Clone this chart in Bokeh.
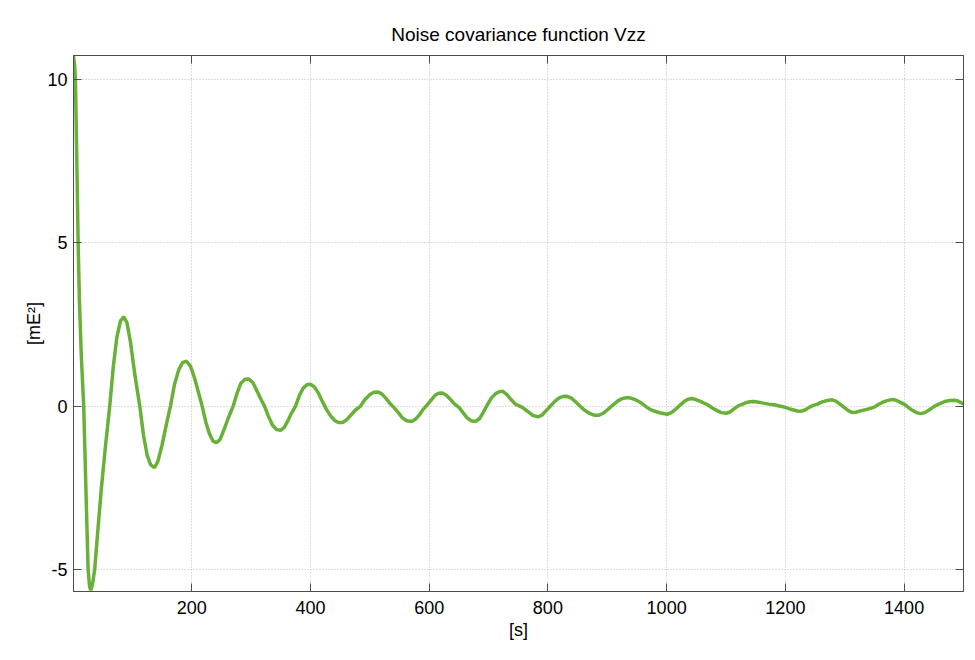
from bokeh.plotting import figure
from bokeh.models import Range1d, LinearAxis, FixedTicker
from bokeh.embed import file_html
from bokeh.resources import INLINE

# ---- data ----
lag_s = [1, 3, 4.2, 6.5, 8.8, 11, 14, 18.2, 22, 25.6, 28, 30, 33, 36.7, 42, 48, 55, 62,
         68, 74, 80, 85.6, 91, 97, 104, 112.6, 119, 125, 131, 137.3, 143, 150, 157,
         164.3, 171, 178, 184.5, 191.3, 198, 205, 211, 217.7, 224, 230, 236, 241.8,
         248, 255, 262, 270, 277, 283, 290, 296.3, 303, 309, 316, 322.7, 329, 336,
         343, 349.7, 356, 362, 368, 375, 382, 388, 394, 400.2, 407, 414, 420, 427,
         434, 441, 447, 454.2, 461, 468, 476, 484.5, 492, 500, 507, 514.3, 521, 528,
         534, 540.6, 548, 555, 562, 570.4, 577, 584, 590, 596.9, 604, 610, 616,
         622.2, 629, 636, 643, 650.2, 657, 664, 671, 678.3, 685, 691, 698, 705, 712,
         718, 724.3, 731, 738, 746, 757, 765, 774, 783.3, 790, 797, 804.7, 812, 819,
         825, 831.6, 839, 846, 854, 860, 866.5, 872, 879, 886, 893, 900, 906, 911.4,
         918, 924, 930, 935.6, 942, 949, 956, 964, 972, 980, 990, 1001, 1008, 1015,
         1022, 1029, 1035, 1042, 1049, 1056, 1063, 1069, 1077, 1085, 1092, 1100,
         1107, 1114, 1120, 1125, 1133, 1140, 1147, 1155, 1163, 1172, 1181, 1190,
         1198, 1206, 1214, 1220, 1226, 1233, 1240, 1247, 1254, 1261, 1268, 1274,
         1279, 1285, 1292, 1299, 1306, 1313, 1320, 1328, 1337, 1349, 1356, 1363,
         1370, 1377, 1383, 1390, 1396, 1400, 1407, 1414, 1421, 1428, 1435, 1442,
         1449, 1456, 1463, 1470, 1477, 1484, 1490, 1496, 1500]
vzz = [10.72, 10.4, 10.0, 7.6, 5.0, 3.2, 1.6, 0.0, -2.6, -5.0, -5.5, -5.63, -5.45, -5.0,
       -3.8, -2.5, -1.2, 0.0, 1.2, 2.1, 2.6, 2.73, 2.55, 1.95, 1.0, 0.0, -0.9, -1.5,
       -1.8, -1.88, -1.7, -1.2, -0.6, 0.0, 0.65, 1.1, 1.33, 1.37, 1.22, 0.85, 0.45,
       0.0, -0.5, -0.85, -1.07, -1.12, -1.02, -0.7, -0.35, 0.0, 0.42, 0.7, 0.82,
       0.83, 0.72, 0.5, 0.23, 0.0, -0.3, -0.58, -0.72, -0.74, -0.65, -0.45, -0.22,
       0.0, 0.35, 0.55, 0.65, 0.67, 0.58, 0.38, 0.15, -0.1, -0.3, -0.44, -0.5, -0.5,
       -0.42, -0.28, -0.12, 0.0, 0.2, 0.35, 0.42, 0.43, 0.36, 0.22, 0.08, -0.04,
       -0.2, -0.36, -0.45, -0.47, -0.4, -0.26, -0.1, 0.04, 0.2, 0.33, 0.39, 0.40,
       0.33, 0.2, 0.06, -0.04, -0.2, -0.36, -0.45, -0.47, -0.38, -0.2, 0.04, 0.25,
       0.38, 0.44, 0.45, 0.35, 0.2, 0.05, -0.04, -0.15, -0.28, -0.33, -0.28, -0.14,
       0.01, 0.15, 0.25, 0.29, 0.30, 0.25, 0.14, 0.0, -0.1, -0.18, -0.24, -0.28,
       -0.28, -0.22, -0.12, -0.02, 0.06, 0.16, 0.22, 0.25, 0.26, 0.23, 0.18, 0.11,
       0.0, -0.1, -0.16, -0.21, -0.25, -0.2, -0.1, 0.02, 0.13, 0.2, 0.23, 0.2, 0.15,
       0.09, 0.04, -0.06, -0.14, -0.2, -0.22, -0.18, -0.08, 0.0, 0.04, 0.1, 0.13,
       0.14, 0.12, 0.09, 0.06, 0.04, 0.0, -0.03, -0.08, -0.12, -0.15, -0.16, -0.12,
       -0.04, 0.02, 0.06, 0.12, 0.16, 0.18, 0.19, 0.15, 0.06, -0.04, -0.14, -0.2,
       -0.18, -0.14, -0.1, -0.04, 0.04, 0.11, 0.16, 0.19, 0.2, 0.15, 0.09, 0.06,
       -0.04, -0.13, -0.2, -0.23, -0.2, -0.12, -0.03, 0.04, 0.1, 0.15, 0.17, 0.18,
       0.16, 0.1, 0.06]
x_ticks = [200, 400, 600, 800, 1000, 1200, 1400]
y_ticks = [-5, 0, 5, 10]
y_tick_labels = {-5: "-5", 0: "0", 5: "5", 10: "10"}
title_text = "Noise covariance function Vzz"
x_label = "[s]"
y_label = "[mE\u00b2]"

FONT = "Liberation Sans"
AXIS_COLOR = "#4d4d4d"

p = figure(width=975, height=660, output_backend="svg", toolbar_location=None,
           x_range=Range1d(1, 1500), y_range=Range1d(-5.67, 10.72),
           frame_width=890, frame_height=536,
           min_border_left=73, min_border_right=12, min_border_top=55,
           min_border_bottom=20,
           background_fill_color="white", border_fill_color="white")

p.line(lag_s, vzz, line_color="#68b038", line_width=3.5)

# title
p.title.text = title_text
p.title.align = "center"
p.title.text_font = FONT
p.title.text_font_size = "19px"
p.title.text_font_style = "normal"
p.title.text_color = "black"
p.title.standoff = 22

# box outline
p.outline_line_color = AXIS_COLOR
p.outline_line_width = 1
p.outline_line_alpha = 1

# extra axes on top and right (ticks only)
top = LinearAxis(ticker=FixedTicker(ticks=x_ticks))
right = LinearAxis(ticker=FixedTicker(ticks=y_ticks))
for ax in (top, right):
    ax.major_label_text_font_size = "0px"
    ax.major_label_standoff = 0
    ax.major_label_text_alpha = 0
p.add_layout(top, "above")
p.add_layout(right, "right")

for ax in p.xaxis + p.yaxis:
    ax.major_tick_in = 8
    ax.major_tick_out = 0
    ax.minor_tick_line_color = None
    ax.major_tick_line_color = AXIS_COLOR
    ax.axis_line_color = AXIS_COLOR
    ax.major_label_text_font = FONT
    ax.major_label_text_color = "black"
    ax.axis_label_text_font = FONT
    ax.axis_label_text_font_style = "normal"
    ax.axis_label_text_color = "black"

bottom = p.below[0]
left = p.left[0]
bottom.ticker = FixedTicker(ticks=x_ticks)
left.ticker = FixedTicker(ticks=y_ticks)
left.major_label_overrides = y_tick_labels
bottom.major_label_text_font_size = "18px"
left.major_label_text_font_size = "18px"
bottom.major_label_standoff = 9
left.major_label_standoff = 6
bottom.axis_label = x_label
left.axis_label = y_label
bottom.axis_label_text_font_size = "18px"
left.axis_label_text_font_size = "18px"
bottom.axis_label_standoff = 3
left.axis_label_standoff = 0

# grid
p.xgrid.ticker = FixedTicker(ticks=x_ticks)
p.ygrid.ticker = FixedTicker(ticks=y_ticks)
for g in (p.xgrid, p.ygrid):
    g.grid_line_color = "#bdbdbd"
    g.grid_line_dash = "1 2"
    g.grid_line_width = 1

open("out.html", "w").write(file_html(p, INLINE))
